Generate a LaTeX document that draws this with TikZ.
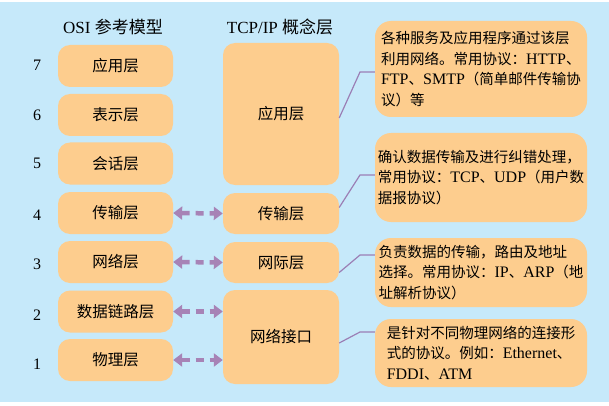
\documentclass[tikz,border=0pt]{standalone}
\usepackage{fontspec}
\setmainfont{Liberation Serif}
\newfontfamily\cjk{Noto Sans CJK SC}
\usetikzlibrary{arrows.meta, positioning}

\definecolor{bgblue}{HTML}{C6E9FA}
\definecolor{boxorange}{HTML}{FDCD8E}
\definecolor{arrowpurple}{HTML}{A783B6}
\definecolor{linkpurple}{HTML}{9B7FB5}
\newcommand{\en}[1]{{\rmfamily\fontsize{16}{20.5}\selectfont #1}}

\tikzset{
  layer/.style={fill=boxorange, rounded corners=12pt, inner sep=0pt,
    minimum width=115pt, minimum height=42pt,
    font=\fontsize{15.5}{18}\selectfont\cjk},
  tcplayer/.style={layer, minimum width=116pt},
  desc/.style={fill=boxorange, rounded corners=16pt, inner sep=0pt,
    minimum width=212pt, align=left,
    font=\fontsize{14.5}{20.5}\selectfont\cjk},
  head/.style={font=\fontsize{17}{20}\selectfont},
  layernum/.style={font=\fontsize{16}{18}\selectfont},
  biarrow/.style={arrowpurple, line width=4.5pt, dash pattern=on 8pt off 6pt,
    {Triangle[width=13pt,length=9pt]}-{Triangle[width=13pt,length=9pt]}},
  link/.style={linkpurple, line width=1.2pt}
}

\begin{document}
\begin{tikzpicture}[x=1pt, y=-1pt]
  \useasboundingbox (0,0) rectangle (609,406);
  \fill[bgblue] (0,2) rectangle (609,402);

  % headings
  \node[head] (osihead) at (113,27) {OSI {\cjk 参考模型}};
  \node[head] (tcphead) at (280,27) {TCP/IP {\cjk 概念层}};

  % OSI reference model
  \node[layer] (osi7) at (115.5,66) {应用层};
  \node[layer] (osi6) at (115.5,115) {表示层};
  \node[layer] (osi5) at (115.5,163.5) {会话层};
  \node[layer] (osi4) at (115.5,213) {传输层};
  \node[layer] (osi3) at (115.5,262) {网络层};
  \node[layer] (osi2) at (115.5,311.5) {数据链路层};
  \node[layer] (osi1) at (115.5,360) {物理层};

  \node[layernum] (num7) at (37,65) {7};
  \node[layernum] (num6) at (37,115) {6};
  \node[layernum] (num5) at (37,163) {5};
  \node[layernum] (num4) at (37,215) {4};
  \node[layernum] (num3) at (37,264) {3};
  \node[layernum] (num2) at (37,315) {2};
  \node[layernum] (num1) at (37,364) {1};

  % TCP/IP model
  \node[tcplayer, minimum height=142pt] (tcpapp) at (281,114) {应用层};
  \node[tcplayer, minimum height=41pt] (tcptrans) at (281,213.5) {传输层};
  \node[tcplayer, minimum height=41pt] (tcpnet) at (281,262.5) {网际层};
  \node[tcplayer, minimum height=94pt] (tcpnetif) at (281,337) {网络接口};

  \draw[biarrow] (osi4.east) -- (tcptrans.west);
  \draw[biarrow] (osi3.east) -- (tcpnet.west);
  \draw[biarrow] (osi2.east) -- (osi2.east -| tcpnetif.west);
  \draw[biarrow] (osi1.east) -- (osi1.east -| tcpnetif.west);

  % descriptions
  \node[desc, minimum height=96pt] (descA) at (481,69)
    {各种服务及应用程序通过该层\\
     利用网络。常用协议：\en{HTTP}、\\
     \en{FTP}、\en{SMTP}（简单邮件传输协\\
     议）等};
  \node[desc, minimum height=89pt] (descB) at (481,177.5)
    {确认数据传输及进行纠错处理，\\
     常用协议：\en{TCP}、\en{UDP}（用户数\\
     据报协议）};
  \node[desc, minimum height=69pt] (descC) at (481,272.5)
    {负责数据的传输，路由及地址\\
     选择。常用协议：\en{IP}、\en{ARP}（地\\
     址解析协议）};
  \node[desc, minimum height=68pt] (descD) at (481,353)
    {是针对不同物理网络的连接形\\
     式的协议。例如：\en{Ethernet}、\\
     \en{FDDI}、\en{ATM}};

  \coordinate (kneeA) at (360,72);
  \coordinate (kneeB) at (360,175);
  \coordinate (kneeC) at (360,255);
  \coordinate (kneeD) at (360,332);
  \draw[link] ([yshift=-4pt]tcpapp.east) -- (kneeA) -- (descA.west |- kneeA);
  \draw[link] ([yshift=6pt]tcptrans.east) -- (kneeB) -- (descB.west |- kneeB);
  \draw[link] ([yshift=-10pt]tcpnet.east) -- (kneeC) -- (descC.west |- kneeC);
  \draw[link] ([yshift=-6pt]tcpnetif.east) -- (kneeD) -- (descD.west |- kneeD);
\end{tikzpicture}
\end{document}
